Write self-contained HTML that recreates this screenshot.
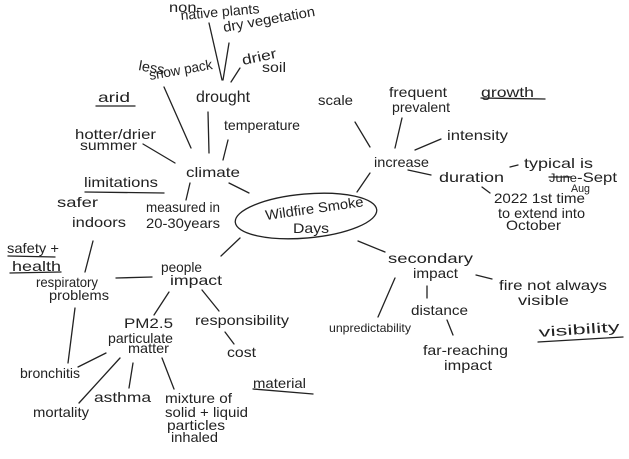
<!DOCTYPE html>
<html><head><meta charset="utf-8"><style>
html,body{margin:0;padding:0;background:#fff;}
svg{display:block;}
text{font-family:"Liberation Sans",sans-serif;font-size:14px;fill:#222;}
line,path,ellipse{stroke:#222;stroke-width:1.3;fill:none;stroke-linecap:round;}
</style></head><body>
<svg width="629" height="459" viewBox="0 0 629 459" xmlns="http://www.w3.org/2000/svg">
<!-- lines -->
<line x1="209" y1="23" x2="222" y2="80"/>
<line x1="229" y1="43" x2="223" y2="80"/>
<line x1="240" y1="68" x2="231" y2="82"/>
<line x1="164" y1="87" x2="191" y2="148"/>
<line x1="208" y1="112" x2="209" y2="153"/>
<line x1="228" y1="140" x2="223" y2="160"/>
<line x1="143" y1="144" x2="175" y2="163"/>
<line x1="229" y1="183" x2="249" y2="193"/>
<line x1="190" y1="183" x2="186" y2="200"/>
<line x1="85" y1="192" x2="164" y2="193"/>
<line x1="96" y1="106" x2="135" y2="106"/>
<line x1="481" y1="98" x2="545" y2="99"/>
<line x1="355" y1="122" x2="370" y2="147"/>
<line x1="402" y1="118" x2="395" y2="148"/>
<line x1="415" y1="150" x2="441" y2="139"/>
<line x1="370" y1="173" x2="357" y2="192"/>
<line x1="408" y1="170" x2="431" y2="175"/>
<line x1="510" y1="167" x2="518" y2="165"/>
<line x1="482" y1="187" x2="490" y2="193"/>
<line x1="358" y1="241" x2="385" y2="252"/>
<line x1="476" y1="275" x2="492" y2="279"/>
<line x1="395" y1="278" x2="378" y2="317"/>
<line x1="427" y1="286" x2="427" y2="298"/>
<line x1="447" y1="320" x2="453" y2="335"/>
<line x1="538" y1="342" x2="623" y2="337"/>
<line x1="240" y1="238" x2="221" y2="256"/>
<line x1="152" y1="277" x2="116" y2="278"/>
<line x1="93" y1="241" x2="85" y2="272"/>
<line x1="8" y1="256" x2="55" y2="257"/>
<line x1="10" y1="273" x2="61" y2="272"/>
<line x1="169" y1="292" x2="154" y2="315"/>
<line x1="202" y1="290" x2="219" y2="311"/>
<line x1="225" y1="332" x2="234" y2="344"/>
<line x1="75" y1="308" x2="68" y2="363"/>
<line x1="106" y1="353" x2="78" y2="367"/>
<line x1="120" y1="358" x2="79" y2="403"/>
<line x1="133" y1="363" x2="129" y2="388"/>
<line x1="162" y1="358" x2="174" y2="389"/>
<line x1="253" y1="389" x2="313" y2="394"/>
<line x1="549" y1="177" x2="571" y2="177"/>
<ellipse cx="306" cy="216" rx="71" ry="22" transform="rotate(-5 306 216)"/>
<!-- text -->
<text x="169" y="12" textLength="33" lengthAdjust="spacingAndGlyphs">non-</text>
<text x="181" y="20" textLength="79" lengthAdjust="spacingAndGlyphs" transform="rotate(-5 181 20)">native plants</text>
<text x="224" y="32" textLength="93" lengthAdjust="spacingAndGlyphs" transform="rotate(-10 224 32)">dry vegetation</text>
<text x="138" y="70" textLength="26" lengthAdjust="spacingAndGlyphs" transform="rotate(10 138 70)">less</text>
<text x="150" y="80" textLength="64" lengthAdjust="spacingAndGlyphs" transform="rotate(-10 150 80)">snow pack</text>
<text x="243" y="65" textLength="35" lengthAdjust="spacingAndGlyphs" transform="rotate(-12 243 65)">drier</text>
<text x="262" y="72" textLength="24" lengthAdjust="spacingAndGlyphs">soil</text>
<text x="196" y="102" textLength="54" lengthAdjust="spacingAndGlyphs" style="font-size:16px">drought</text>
<text x="98" y="102" textLength="32" lengthAdjust="spacingAndGlyphs">arid</text>
<text x="75" y="139" textLength="81" lengthAdjust="spacingAndGlyphs">hotter/drier</text>
<text x="80" y="150" textLength="57" lengthAdjust="spacingAndGlyphs">summer</text>
<text x="224" y="130" textLength="76" lengthAdjust="spacingAndGlyphs">temperature</text>
<text x="318" y="105" textLength="35" lengthAdjust="spacingAndGlyphs">scale</text>
<text x="389" y="97" textLength="58" lengthAdjust="spacingAndGlyphs">frequent</text>
<text x="392" y="112" textLength="58" lengthAdjust="spacingAndGlyphs">prevalent</text>
<text x="481" y="97" textLength="53" lengthAdjust="spacingAndGlyphs">growth</text>
<text x="447" y="140" textLength="61" lengthAdjust="spacingAndGlyphs">intensity</text>
<text x="374" y="167" textLength="55" lengthAdjust="spacingAndGlyphs">increase</text>
<text x="186" y="177" textLength="54" lengthAdjust="spacingAndGlyphs">climate</text>
<text x="84" y="187" textLength="74" lengthAdjust="spacingAndGlyphs">limitations</text>
<text x="439" y="182" textLength="65" lengthAdjust="spacingAndGlyphs">duration</text>
<text x="524" y="168" textLength="69" lengthAdjust="spacingAndGlyphs">typical is</text>
<text x="549" y="182" textLength="28" lengthAdjust="spacingAndGlyphs" style="font-size:12px">June</text>
<text x="577" y="182" textLength="40" lengthAdjust="spacingAndGlyphs">-Sept</text>
<text x="571" y="192" textLength="19" lengthAdjust="spacingAndGlyphs" style="font-size:11px">Aug</text>
<text x="494" y="203" textLength="91" lengthAdjust="spacingAndGlyphs">2022 1st time</text>
<text x="498" y="218" textLength="87" lengthAdjust="spacingAndGlyphs">to extend into</text>
<text x="506" y="230" textLength="55" lengthAdjust="spacingAndGlyphs">October</text>
<text x="57" y="207" textLength="41" lengthAdjust="spacingAndGlyphs">safer</text>
<text x="72" y="227" textLength="54" lengthAdjust="spacingAndGlyphs">indoors</text>
<text x="146" y="212" textLength="74" lengthAdjust="spacingAndGlyphs">measured in</text>
<text x="146" y="228" textLength="74" lengthAdjust="spacingAndGlyphs">20-30years</text>
<text x="266" y="220" textLength="99" lengthAdjust="spacingAndGlyphs" transform="rotate(-8 266 220)">Wildfire Smoke</text>
<text x="293" y="233" textLength="36" lengthAdjust="spacingAndGlyphs">Days</text>
<text x="7" y="253" textLength="52" lengthAdjust="spacingAndGlyphs">safety +</text>
<text x="12" y="271" textLength="49" lengthAdjust="spacingAndGlyphs">health</text>
<text x="36" y="287" textLength="62" lengthAdjust="spacingAndGlyphs">respiratory</text>
<text x="49" y="300" textLength="60" lengthAdjust="spacingAndGlyphs">problems</text>
<text x="161" y="272" textLength="41" lengthAdjust="spacingAndGlyphs">people</text>
<text x="170" y="285" textLength="52" lengthAdjust="spacingAndGlyphs">impact</text>
<text x="388" y="263" textLength="85" lengthAdjust="spacingAndGlyphs">secondary</text>
<text x="413" y="278" textLength="45" lengthAdjust="spacingAndGlyphs">impact</text>
<text x="499" y="290" textLength="108" lengthAdjust="spacingAndGlyphs">fire not always</text>
<text x="518" y="305" textLength="51" lengthAdjust="spacingAndGlyphs">visible</text>
<text x="124" y="328" textLength="49" lengthAdjust="spacingAndGlyphs">PM2.5</text>
<text x="108" y="343" textLength="65" lengthAdjust="spacingAndGlyphs">particulate</text>
<text x="128" y="353" textLength="41" lengthAdjust="spacingAndGlyphs">matter</text>
<text x="195" y="325" textLength="94" lengthAdjust="spacingAndGlyphs">responsibility</text>
<text x="329" y="332" textLength="82" lengthAdjust="spacingAndGlyphs" style="font-size:12px">unpredictability</text>
<text x="411" y="315" textLength="57" lengthAdjust="spacingAndGlyphs">distance</text>
<text x="539" y="337" textLength="81" lengthAdjust="spacingAndGlyphs" transform="rotate(-4 539 337)">visibility</text>
<text x="227" y="357" textLength="29" lengthAdjust="spacingAndGlyphs">cost</text>
<text x="423" y="355" textLength="85" lengthAdjust="spacingAndGlyphs">far-reaching</text>
<text x="444" y="370" textLength="48" lengthAdjust="spacingAndGlyphs">impact</text>
<text x="20" y="378" textLength="60" lengthAdjust="spacingAndGlyphs">bronchitis</text>
<text x="253" y="388" textLength="53" lengthAdjust="spacingAndGlyphs">material</text>
<text x="94" y="402" textLength="57" lengthAdjust="spacingAndGlyphs">asthma</text>
<text x="165" y="403" textLength="67" lengthAdjust="spacingAndGlyphs">mixture of</text>
<text x="165" y="417" textLength="83" lengthAdjust="spacingAndGlyphs">solid + liquid</text>
<text x="167" y="430" textLength="58" lengthAdjust="spacingAndGlyphs">particles</text>
<text x="171" y="442" textLength="47" lengthAdjust="spacingAndGlyphs">inhaled</text>
<text x="33" y="417" textLength="56" lengthAdjust="spacingAndGlyphs">mortality</text>
</svg>
</body></html>
